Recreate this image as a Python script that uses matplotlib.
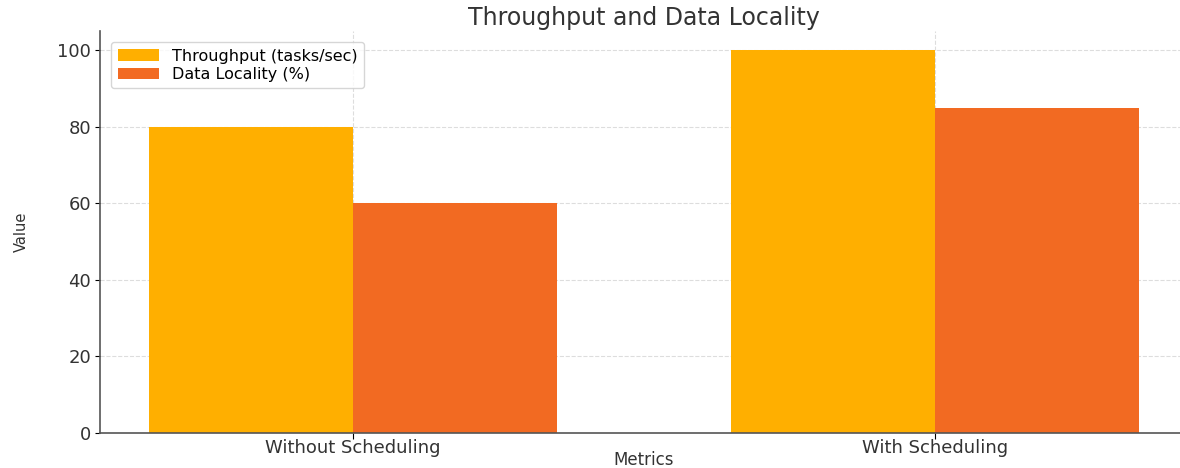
import numpy as np
import matplotlib.pyplot as plt

plt.rcParams['font.family'] = ['DejaVu Sans']

# chart data
categories = ["Without Scheduling", "With Scheduling"]
throughput = [80, 100]
locality = [60, 85]
series_names = ["Throughput (tasks/sec)", "Data Locality (%)"]

x = np.arange(len(categories))
width = 0.35

fig = plt.figure(figsize=(11.8, 4.68), dpi=100)
ax = fig.add_axes([100/1180, 35/468, 1088/1180, 402/468])

ax.bar(x - width/2, throughput, width, color='#FFAF00', label=series_names[0], zorder=2)
ax.bar(x + width/2, locality, width, color='#F26A22', label=series_names[1], zorder=2)

ax.set_xticks(x)
ax.set_xticklabels(categories, fontsize=13, color='#333333')
ax.tick_params(axis='x', pad=0, length=4)
ax.tick_params(axis='y', labelsize=13, labelcolor='#333333', pad=3)
ax.set_ylim(0, 105)
ax.set_xlabel("Metrics", fontsize=12, color='#333333')
ax.xaxis.set_label_coords(0.5, -0.045)
ax.set_ylabel("Value", fontsize=10.5, color='#333333', labelpad=20)
ax.set_title("Throughput and Data Locality", fontsize=17, color='#333333', pad=4)

ax.grid(True, linestyle='--', color='#dddddd', linewidth=0.8, zorder=0)
ax.set_axisbelow(True)
for s in ['top', 'right']:
    ax.spines[s].set_visible(False)
for s in ['left', 'bottom']:
    ax.spines[s].set_color('#555555')
    ax.spines[s].set_linewidth(1.2)

ax.legend(loc='upper left', fontsize=11.5, frameon=True, borderaxespad=0.7,
          handlelength=2.6, labelspacing=0.2)

fig.savefig("out.png", dpi=100)
